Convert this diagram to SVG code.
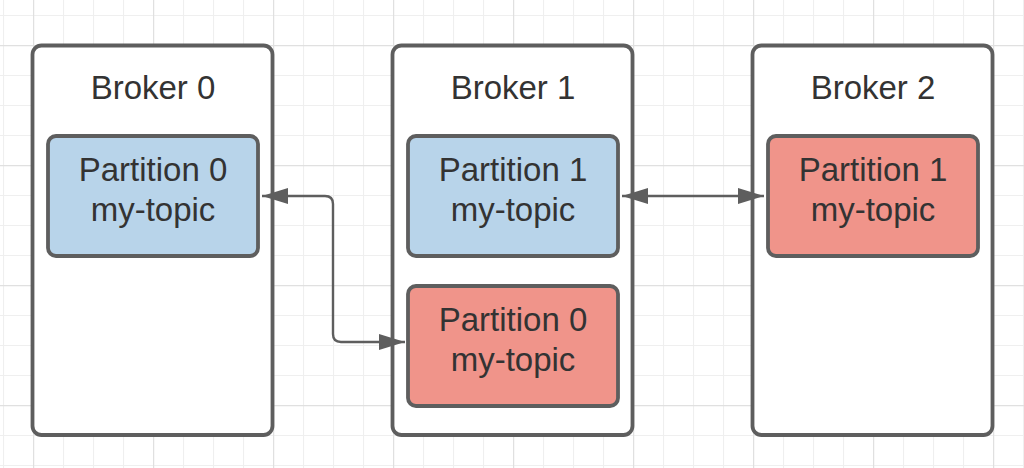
<svg xmlns="http://www.w3.org/2000/svg" width="1024" height="468" viewBox="0 0 1024 468">
  <defs>
    <pattern id="minor" x="3" y="15" width="30" height="30" patternUnits="userSpaceOnUse">
      <path d="M0.5 0 V30 M0 0.5 H30" fill="none" stroke="#efefef" stroke-width="1.2"/>
    </pattern>
    <pattern id="major" x="33" y="45" width="120" height="120" patternUnits="userSpaceOnUse">
      <path d="M0.5 0 V120 M0 0.5 H120" fill="none" stroke="#e0e0e0" stroke-width="1.4"/>
    </pattern>
    <marker id="arrow" viewBox="0 0 26 16" refX="26" refY="8" markerWidth="26" markerHeight="16" markerUnits="userSpaceOnUse" orient="auto-start-reverse">
      <path d="M0 0 L26 8 L0 16 Z" fill="#5e5e5e"/>
    </marker>
    <style>
      .broker { fill: #ffffff; stroke: #5e5e5e; stroke-width: 3.8; }
      .blue { fill: #b8d4ea; stroke: #5e5e5e; stroke-width: 3.8; }
      .red { fill: #f0948a; stroke: #5e5e5e; stroke-width: 3.8; }
      .label { font-family: "Liberation Sans", Arial, sans-serif; font-size: 33px; fill: #333333; text-anchor: middle; }
      .conn { fill: none; stroke: #5e5e5e; stroke-width: 2.4; }
    </style>
  </defs>
  <rect width="1024" height="468" fill="#ffffff"/>
  <rect width="1024" height="468" fill="url(#minor)"/>
  <rect width="1024" height="468" fill="url(#major)"/>

  <g id="broker0">
    <rect class="broker" x="32.5" y="45.5" width="240" height="389.5" rx="9"/>
    <text class="label" x="153" y="99">Broker 0</text>
  </g>
  <g id="broker1">
    <rect class="broker" x="392.5" y="45.5" width="240" height="389.5" rx="9"/>
    <text class="label" x="513" y="99">Broker 1</text>
  </g>
  <g id="broker2">
    <rect class="broker" x="752.5" y="45.5" width="240" height="389.5" rx="9"/>
    <text class="label" x="873" y="99">Broker 2</text>
  </g>

  <g id="b0-partition0">
    <rect class="blue" x="48" y="136" width="210" height="120" rx="8"/>
    <text class="label" x="153" y="181">Partition 0</text>
    <text class="label" x="153" y="221">my-topic</text>
  </g>
  <g id="b1-partition1">
    <rect class="blue" x="408" y="136" width="210" height="120" rx="8"/>
    <text class="label" x="513" y="181">Partition 1</text>
    <text class="label" x="513" y="221">my-topic</text>
  </g>
  <g id="b1-partition0">
    <rect class="red" x="408" y="286" width="210" height="120" rx="8"/>
    <text class="label" x="513" y="331">Partition 0</text>
    <text class="label" x="513" y="371">my-topic</text>
  </g>
  <g id="b2-partition1">
    <rect class="red" x="768" y="136" width="210" height="120" rx="8"/>
    <text class="label" x="873" y="181">Partition 1</text>
    <text class="label" x="873" y="221">my-topic</text>
  </g>

  <g id="connectors">
    <path class="conn" d="M262 196 H325 Q333 196 333 204 V334 Q333 342 341 342 H405" marker-start="url(#arrow)" marker-end="url(#arrow)"/>
    <path class="conn" d="M622 196 H764" marker-start="url(#arrow)" marker-end="url(#arrow)"/>
  </g>
</svg>
